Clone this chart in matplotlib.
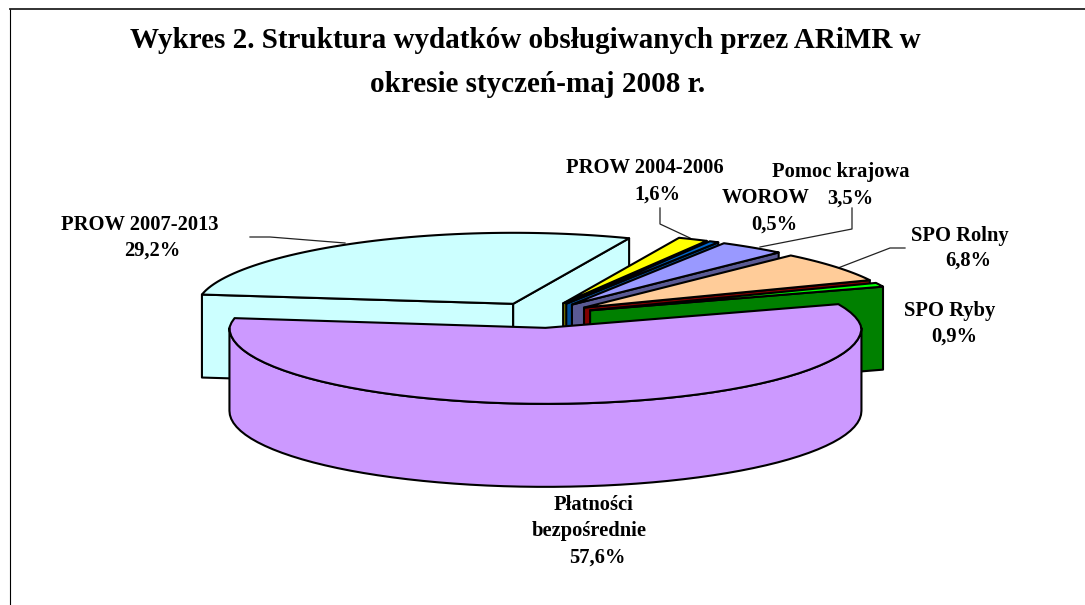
import numpy as np
import matplotlib
matplotlib.use('Agg')
import matplotlib.pyplot as plt
from matplotlib.patches import Polygon

# dane, kolejnosc zgodnie z ruchem wskazowek od lewej krawedzi fioletowego
names = ['PROW 2007-2013', 'PROW 2004-2006', 'WOROW', 'Pomoc krajowa', 'SPO Rolny', 'SPO Ryby', 'Platnosci']
shares = [29.2, 1.6, 0.5, 3.5, 6.8, 0.9, 57.6]
top_colors = ['#CCFFFF', '#FFFF00', '#0066CC', '#9999FF', '#FFCC99', '#00FF00', '#CC99FF']
side_colors = ['#CCFFFF', '#808000', '#004C99', '#5A5A94', '#800000', '#008000', '#CC99FF']

label_lines = [
    ('PROW 2007-2013', 140, 225), ('29,2%', 152, 251),
    ('PROW 2004-2006', 645, 168), ('1,6%', 657, 195),
    ('Pomoc krajowa', 841, 172), ('WOROW', 766, 198), ('3,5%', 850, 199),
    ('0,5%', 774, 225),
    ('SPO Rolny', 960, 236), ('6,8%', 968, 261),
    ('SPO Ryby', 950, 311), ('0,9%', 954, 337),
    ('Płatności', 594, 505), ('bezpośrednie', 589, 531), ('57,6%', 597, 558),
]
title_lines = [('Wykres 2. Struktura wydatków obsługiwanych przez ARiMR w', 525, 40),
               ('okresie styczeń-maj 2008 r.', 538, 84)]
leaders = [
    ([250, 270, 345], [237, 237, 243]),
    ([660, 660, 690], [208, 224, 238]),
    ([852, 852, 760], [208, 229, 247]),
    ([905, 890, 838], [248, 248, 268]),
]

CX, CY = 540, 315
RX, RY = 316, 76
RY_BACK = 71      # tylna polowa lekko splaszczona (perspektywa)
X_SHRINK = 0.05
DEPTH = 83
EXPLODE = 0.17
START_ANGLE = 172.5

plt.rcParams['font.family'] = ['Liberation Serif', 'DejaVu Serif']

fig = plt.figure(figsize=(10.85, 6.05), dpi=100)
ax = fig.add_axes([0, 0, 1, 1])
ax.set_xlim(0, 1085)
ax.set_ylim(605, 0)
ax.axis('off')


def rim(apex, a1, a2, n=60):
    t = np.radians(np.linspace(a1, a2, n))
    s = np.sin(t)
    back = s > 0
    x = RX * np.cos(t) * np.where(back, 1 - X_SHRINK * s, 1)
    y = np.where(back, RY_BACK, RY) * s
    return np.column_stack([apex[0] + x, apex[1] - y])


def add(pts, color, z):
    ax.add_patch(Polygon(pts, closed=True, facecolor=color, edgecolor='black',
                         linewidth=1.5, joinstyle='round', zorder=z))


down = np.array([0, DEPTH])
angle = START_ANGLE
for i, share in enumerate(shares):
    a1 = angle
    a2 = angle - share * 3.6
    angle = a2
    mid = np.radians((a1 + a2) / 2)
    apex = np.array([CX + EXPLODE * RX * np.cos(mid), CY - EXPLODE * RY * np.sin(mid)])
    z = i * 4 + 1
    edge = rim(apex, a1, a2)
    last = i == len(shares) - 1

    # sciany radialne
    if i == 0:
        p = edge[0]
        add([apex, p, p + down, apex + down], side_colors[i], z)
    if not last:
        p = edge[-1]
        add([apex, p, p + down, apex + down], side_colors[i], z)

    # sciana zewnetrzna, tylko duzy wycinek od strony widza
    if last:
        t = rim(apex, 0, -180)
        add(np.vstack([t, (t + down)[::-1]]), side_colors[i], z + 1)

    # wierzch
    add(np.vstack([apex, edge]), top_colors[i], z + 2)

for xs, ys in leaders:
    ax.plot(xs, ys, color='#222222', lw=0.9, zorder=1)

for txt, x, y in label_lines:
    ax.text(x, y, txt, ha='center', va='center', fontsize=14.8, fontweight='bold', zorder=50)
for txt, x, y in title_lines:
    ax.text(x, y, txt, ha='center', va='center', fontsize=21, fontweight='bold', zorder=50)

# ramka, tylko z lewej i u gory
ax.plot([9.5, 9.5], [605, 8.5], color='black', lw=0.8, zorder=60)
ax.plot([9.5, 1085], [8.5, 8.5], color='#222222', lw=1.3, zorder=60)

fig.savefig('out.png', dpi=100)
